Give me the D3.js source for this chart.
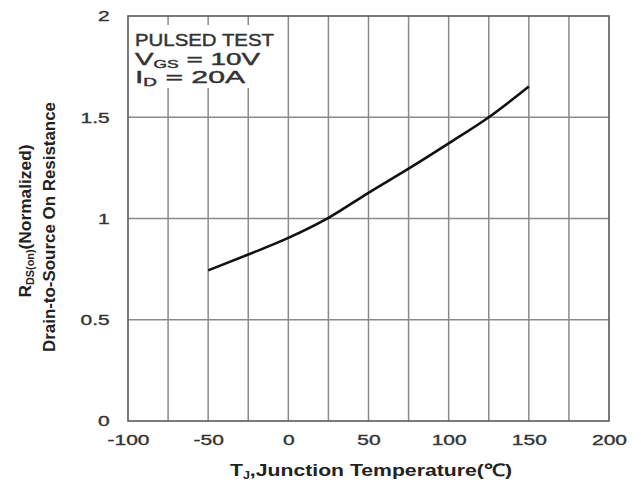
<!DOCTYPE html>
<html>
<head>
<meta charset="utf-8">
<script src="https://cdn.jsdelivr.net/npm/d3@7"></script>
<style>
  body { margin: 0; background: #fff; }
  svg { display: block; font-family: "Liberation Sans", Arial, sans-serif; }
</style>
</head>
<body>
<svg id="chart" width="641" height="482"></svg>
<script>
// data
var tempC = [-50, -25, 0, 25, 50, 75, 100, 125, 150];
var rdsNorm = [0.744, 0.822, 0.904, 1.003, 1.127, 1.246, 1.371, 1.50, 1.652];
var xTicks = [-100, -50, 0, 50, 100, 150, 200];
var xGrid = [-75, -50, -25, 0, 25, 50, 75, 100, 125, 150, 175];
var yTicks = [0, 0.5, 1, 1.5, 2];
var noteLines = ["PULSED TEST", "V|GS| = 10V", "I|D| = 20A"];

var svg = d3.select("#chart");

// plot box (don't call it "top", that one is taken by window)
var plotL = 128, plotR = 609, plotT = 16, plotB = 421;

var x = d3.scaleLinear().domain([-100, 200]).range([plotL, plotR]);
var y = d3.scaleLinear().domain([0, 2]).range([plotB, plotT]);

// squeeze/stretch a text to a given width, the scan is wider than normal fonts
function fitText(t, w) {
  t.attr("textLength", w).attr("lengthAdjust", "spacingAndGlyphs");
}

// grid
var grid = svg.append("g").attr("stroke", "#8a8a8a").attr("stroke-width", 1.5);
grid.selectAll("line.v")
    .data(xGrid)
    .enter().append("line")
    .attr("class", "v")
    .attr("x1", d => x(d)).attr("x2", d => x(d))
    .attr("y1", plotT).attr("y2", plotB);
grid.selectAll("line.h")
    .data(yTicks.filter(d => d > 0 && d < 2))
    .enter().append("line")
    .attr("class", "h")
    .attr("x1", plotL).attr("x2", plotR)
    .attr("y1", d => y(d)).attr("y2", d => y(d));

// white box behind the test conditions, gridlines only show as stubs at the top
svg.append("rect")
    .attr("x", plotL + 1).attr("y", plotT + 9)
    .attr("width", x(-12) - plotL).attr("height", 63)
    .attr("fill", "#fff");

// frame
svg.append("rect")
    .attr("x", plotL).attr("y", plotT)
    .attr("width", plotR - plotL).attr("height", plotB - plotT)
    .attr("fill", "none").attr("stroke", "#5a5a5a").attr("stroke-width", 1.6);

// curve
var line = d3.line()
    .x((d, i) => x(tempC[i]))
    .y(d => y(d))
    .curve(d3.curveMonotoneX);
svg.append("path")
    .datum(rdsNorm)
    .attr("d", line)
    .attr("fill", "none")
    .attr("stroke", "#111")
    .attr("stroke-width", 2.6);

// axes, labels only (frame and grid drawn above)
var xAxis = svg.append("g")
    .attr("transform", "translate(0," + plotB + ")")
    .call(d3.axisBottom(x).tickValues(xTicks).tickSize(0).tickPadding(13).tickFormat(d => String(d)));
xAxis.select(".domain").remove();
xAxis.selectAll("text")
    .attr("font-size", 15).attr("fill", "#333")
    .attr("stroke", "#333").attr("stroke-width", 0.35)
    .attr("font-family", "Liberation Sans, Arial, sans-serif")
    .attr("transform", "scale(1.4,1)");

var yAxis = svg.append("g")
    .attr("transform", "translate(" + plotL + ",0)")
    .call(d3.axisLeft(y).tickValues(yTicks).tickSize(0).tickPadding(13).tickFormat(d => String(d)));
yAxis.select(".domain").remove();
yAxis.selectAll("text")
    .attr("font-size", 15).attr("fill", "#333")
    .attr("stroke", "#333").attr("stroke-width", 0.35)
    .attr("font-family", "Liberation Sans, Arial, sans-serif")
    .attr("transform", "scale(1.4,1)");

// test conditions
var noteWidths = [139, 125, 110];
noteLines.forEach(function(s, i) {
  var parts = s.split("|");
  var t = svg.append("text")
      .attr("x", 135)
      .attr("y", 46 + i * 18.5)
      .attr("font-size", 16)
      .attr("fill", "#333")
      .attr("stroke", "#333").attr("stroke-width", 0.4);
  t.append("tspan").text(parts[0]);
  if (parts.length > 1) {
    t.append("tspan").attr("font-size", 10).attr("dy", 3).text(parts[1]);
    t.append("tspan").attr("dy", -3).text(parts[2]);
  }
  fitText(t, noteWidths[i]);
});

// y axis title, two rotated lines
var yt1 = svg.append("text")
    .attr("transform", "translate(31,221) rotate(-90)")
    .attr("text-anchor", "middle")
    .attr("font-size", 16).attr("font-weight", "bold").attr("fill", "#222");
yt1.append("tspan").text("R");
yt1.append("tspan").attr("font-size", 10).attr("dy", 3).text("DS(on)");
yt1.append("tspan").attr("dy", -3).text("(Normalized)");
fitText(yt1, 153);

var yt2 = svg.append("text")
    .attr("transform", "translate(55,227) rotate(-90)")
    .attr("text-anchor", "middle")
    .attr("font-size", 16.5).attr("font-weight", "bold").attr("fill", "#222")
    .text("Drain-to-Source On Resistance");
fitText(yt2, 250);

// x axis title
var xt = svg.append("text")
    .attr("x", 371).attr("y", 476)
    .attr("text-anchor", "middle")
    .attr("font-size", 17).attr("font-weight", "bold").attr("fill", "#222");
xt.append("tspan").text("T");
xt.append("tspan").attr("font-size", 10).attr("dy", 3).text("J");
xt.append("tspan").attr("dy", -3).text(",Junction Temperature(\u2103)");
fitText(xt, 282);
</script>
</body>
</html>
